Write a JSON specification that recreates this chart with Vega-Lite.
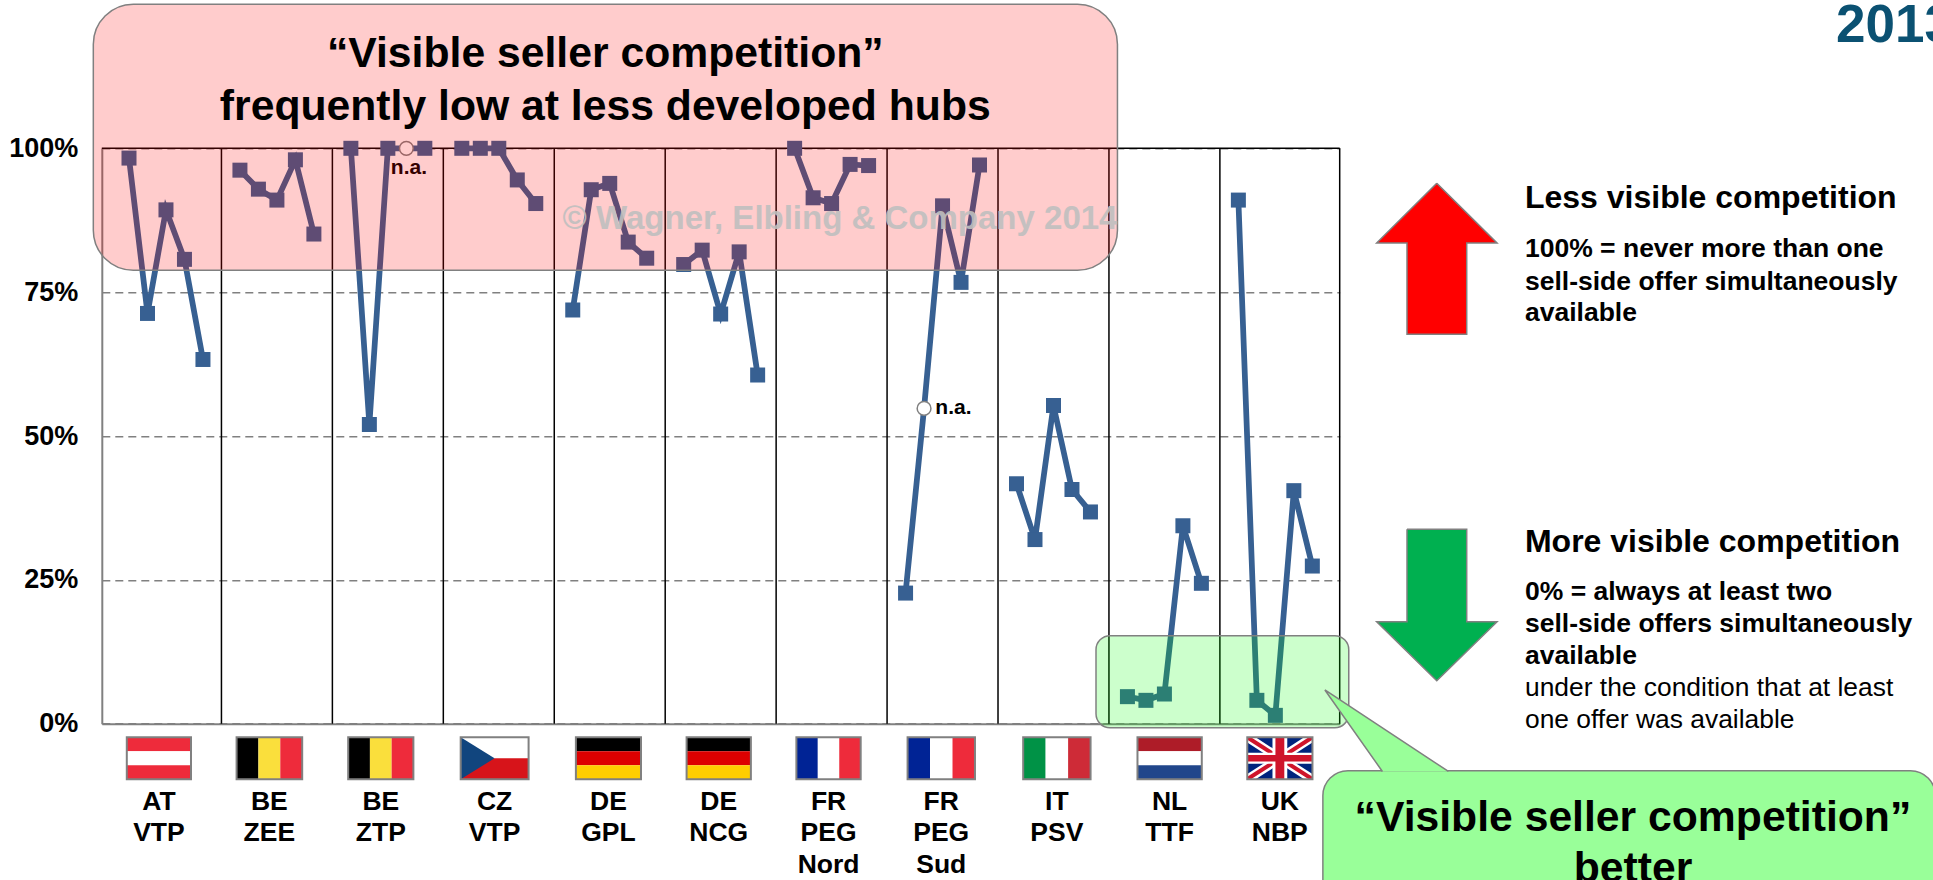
{"$schema":"https://vega.github.io/schema/vega-lite/v6.json","autosize":{"type":"none"},"width":1237.9,"height":575.4,"padding":{"left":101.8,"top":148.3,"right":593.3,"bottom":156.3},"background":"white","view":{"stroke":null},
"config":{"text":{"font":"Liberation Sans","fontWeight":"bold","baseline":"middle"}},
"datasets":{
"series":[
{"hub":"AT VTP","slot":0,"value":98.3},{"hub":"AT VTP","slot":1,"value":71.3},{"hub":"AT VTP","slot":2,"value":89.3},{"hub":"AT VTP","slot":3,"value":80.7},{"hub":"AT VTP","slot":4,"value":63.3},
{"hub":"BE ZEE","slot":6,"value":96.2},{"hub":"BE ZEE","slot":7,"value":92.9},{"hub":"BE ZEE","slot":8,"value":91.0},{"hub":"BE ZEE","slot":9,"value":98.0},{"hub":"BE ZEE","slot":10,"value":85.1},
{"hub":"BE ZTP","slot":12,"value":100},{"hub":"BE ZTP","slot":13,"value":52},{"hub":"BE ZTP","slot":14,"value":100},{"hub":"BE ZTP","slot":15,"value":100,"na":true},{"hub":"BE ZTP","slot":16,"value":100},
{"hub":"CZ VTP","slot":18,"value":100},{"hub":"CZ VTP","slot":19,"value":100},{"hub":"CZ VTP","slot":20,"value":100},{"hub":"CZ VTP","slot":21,"value":94.5},{"hub":"CZ VTP","slot":22,"value":90.4},
{"hub":"DE GPL","slot":24,"value":71.9},{"hub":"DE GPL","slot":25,"value":92.8},{"hub":"DE GPL","slot":26,"value":93.9},{"hub":"DE GPL","slot":27,"value":83.7},{"hub":"DE GPL","slot":28,"value":80.9},
{"hub":"DE NCG","slot":30,"value":79.8},{"hub":"DE NCG","slot":31,"value":82.3},{"hub":"DE NCG","slot":32,"value":71.2},{"hub":"DE NCG","slot":33,"value":82},{"hub":"DE NCG","slot":34,"value":60.6},
{"hub":"FR PEG Nord","slot":36,"value":100},{"hub":"FR PEG Nord","slot":37,"value":91.4},{"hub":"FR PEG Nord","slot":38,"value":90.4},{"hub":"FR PEG Nord","slot":39,"value":97.2},{"hub":"FR PEG Nord","slot":40,"value":97.0},
{"hub":"FR PEG Sud","slot":42,"value":22.7},{"hub":"FR PEG Sud","slot":43,"value":54.8,"na":true},{"hub":"FR PEG Sud","slot":44,"value":90.0},{"hub":"FR PEG Sud","slot":45,"value":76.7},{"hub":"FR PEG Sud","slot":46,"value":97.1},
{"hub":"IT PSV","slot":48,"value":41.7},{"hub":"IT PSV","slot":49,"value":32.0},{"hub":"IT PSV","slot":50,"value":55.3},{"hub":"IT PSV","slot":51,"value":40.7},{"hub":"IT PSV","slot":52,"value":36.8},
{"hub":"NL TTF","slot":54,"value":4.7},{"hub":"NL TTF","slot":55,"value":4.06},{"hub":"NL TTF","slot":56,"value":5.16},{"hub":"NL TTF","slot":57,"value":34.4},{"hub":"NL TTF","slot":58,"value":24.4},
{"hub":"UK NBP","slot":60,"value":91.0},{"hub":"UK NBP","slot":61,"value":4.06},{"hub":"UK NBP","slot":62,"value":1.45},{"hub":"UK NBP","slot":63,"value":40.5},{"hub":"UK NBP","slot":64,"value":27.4}
],
"dividers":[{"slot":5},{"slot":11},{"slot":17},{"slot":23},{"slot":29},{"slot":35},{"slot":41},{"slot":47},{"slot":53},{"slot":59},{"slot":65.48}],
"stripes":[
{"hub":"AT","x":-0.119,"x2":3.353,"y":-2.36,"y2":-4.79,"k":"at-red"},{"hub":"AT","x":-0.119,"x2":3.353,"y":-4.79,"y2":-7.23,"k":"white"},{"hub":"AT","x":-0.119,"x2":3.353,"y":-7.23,"y2":-9.66,"k":"at-red"},
{"hub":"BE ZEE","x":5.819,"x2":6.999,"y":-2.36,"y2":-9.66,"k":"black"},{"hub":"BE ZEE","x":6.999,"x2":8.183,"y":-2.36,"y2":-9.66,"k":"be-yellow"},{"hub":"BE ZEE","x":8.183,"x2":9.367,"y":-2.36,"y2":-9.66,"k":"at-red"},
{"hub":"BE ZTP","x":11.855,"x2":13.03,"y":-2.36,"y2":-9.66,"k":"black"},{"hub":"BE ZTP","x":13.03,"x2":14.206,"y":-2.36,"y2":-9.66,"k":"be-yellow"},{"hub":"BE ZTP","x":14.206,"x2":15.381,"y":-2.36,"y2":-9.66,"k":"at-red"},
{"hub":"CZ","x":17.939,"x2":21.612,"y":-2.36,"y2":-6.01,"k":"white"},{"hub":"CZ","x":17.939,"x2":21.612,"y":-6.01,"y2":-9.66,"k":"cz-red"},
{"hub":"DE GPL","x":24.17,"x2":27.691,"y":-2.36,"y2":-4.79,"k":"black"},{"hub":"DE GPL","x":24.17,"x2":27.691,"y":-4.79,"y2":-7.23,"k":"de-red"},{"hub":"DE GPL","x":24.17,"x2":27.691,"y":-7.23,"y2":-9.66,"k":"de-gold"},
{"hub":"DE NCG","x":30.157,"x2":33.634,"y":-2.36,"y2":-4.79,"k":"black"},{"hub":"DE NCG","x":30.157,"x2":33.634,"y":-4.79,"y2":-7.23,"k":"de-red"},{"hub":"DE NCG","x":30.157,"x2":33.634,"y":-7.23,"y2":-9.66,"k":"de-gold"},
{"hub":"FR N","x":36.095,"x2":37.254,"y":-2.36,"y2":-9.66,"k":"fr-blue"},{"hub":"FR N","x":37.254,"x2":38.414,"y":-2.36,"y2":-9.66,"k":"white"},{"hub":"FR N","x":38.414,"x2":39.573,"y":-2.36,"y2":-9.66,"k":"at-red"},
{"hub":"FR S","x":42.109,"x2":43.324,"y":-2.36,"y2":-9.66,"k":"fr-blue"},{"hub":"FR S","x":43.324,"x2":44.539,"y":-2.36,"y2":-9.66,"k":"white"},{"hub":"FR S","x":44.539,"x2":45.754,"y":-2.36,"y2":-9.66,"k":"at-red"},
{"hub":"IT","x":48.361,"x2":49.576,"y":-2.36,"y2":-9.66,"k":"it-green"},{"hub":"IT","x":49.576,"x2":50.791,"y":-2.36,"y2":-9.66,"k":"white"},{"hub":"IT","x":50.791,"x2":52.006,"y":-2.36,"y2":-9.66,"k":"it-red"},
{"hub":"NL","x":54.543,"x2":58.021,"y":-2.36,"y2":-4.79,"k":"nl-red"},{"hub":"NL","x":54.543,"x2":58.021,"y":-4.79,"y2":-7.23,"k":"white"},{"hub":"NL","x":54.543,"x2":58.021,"y":-7.23,"y2":-9.66,"k":"nl-blue"},
{"hub":"UK","x":60.481,"x2":64.007,"y":-2.36,"y2":-9.66,"k":"uk-blue"}
],
"crosses":[
{"x":61.844,"x2":62.644,"y":-2.36,"y2":-9.66,"k":"white"},{"x":60.481,"x2":64.007,"y":-5.06,"y2":-6.96,"k":"white"},
{"x":62.004,"x2":62.484,"y":-2.36,"y2":-9.66,"k":"uk-red"},{"x":60.481,"x2":64.007,"y":-5.46,"y2":-6.56,"k":"uk-red"}
],
"frames":[
{"x":-0.119,"x2":3.353,"y":-2.36,"y2":-9.66},{"x":5.819,"x2":9.367,"y":-2.36,"y2":-9.66},{"x":11.855,"x2":15.381,"y":-2.36,"y2":-9.66},{"x":17.939,"x2":21.612,"y":-2.36,"y2":-9.66},{"x":24.17,"x2":27.691,"y":-2.36,"y2":-9.66},{"x":30.157,"x2":33.634,"y":-2.36,"y2":-9.66},{"x":36.095,"x2":39.573,"y":-2.36,"y2":-9.66},{"x":42.109,"x2":45.754,"y":-2.36,"y2":-9.66},{"x":48.361,"x2":52.006,"y":-2.36,"y2":-9.66},{"x":54.543,"x2":58.021,"y":-2.36,"y2":-9.66},{"x":60.481,"x2":64.007,"y":-2.36,"y2":-9.66}
],
"flagShapes":[
{"p":"cz","i":0,"x":17.939,"y":-2.36,"k":"cz-blue"},{"p":"cz","i":1,"x":19.77,"y":-6.01,"k":"cz-blue"},{"p":"cz","i":2,"x":17.939,"y":-9.66,"k":"cz-blue"},
{"p":"w1","i":0,"x":60.481,"y":-2.36,"k":"white"},{"p":"w1","i":1,"x":60.931,"y":-2.36,"k":"white"},{"p":"w1","i":2,"x":64.007,"y":-8.76,"k":"white"},{"p":"w1","i":3,"x":64.007,"y":-9.66,"k":"white"},{"p":"w1","i":4,"x":63.557,"y":-9.66,"k":"white"},{"p":"w1","i":5,"x":60.481,"y":-3.26,"k":"white"},
{"p":"w2","i":0,"x":64.007,"y":-2.36,"k":"white"},{"p":"w2","i":1,"x":64.007,"y":-3.26,"k":"white"},{"p":"w2","i":2,"x":60.931,"y":-9.66,"k":"white"},{"p":"w2","i":3,"x":60.481,"y":-9.66,"k":"white"},{"p":"w2","i":4,"x":60.481,"y":-8.76,"k":"white"},{"p":"w2","i":5,"x":63.557,"y":-2.36,"k":"white"},
{"p":"r1","i":0,"x":60.481,"y":-2.36,"k":"uk-red"},{"p":"r1","i":1,"x":60.681,"y":-2.36,"k":"uk-red"},{"p":"r1","i":2,"x":64.007,"y":-9.24,"k":"uk-red"},{"p":"r1","i":3,"x":64.007,"y":-9.66,"k":"uk-red"},{"p":"r1","i":4,"x":63.807,"y":-9.66,"k":"uk-red"},{"p":"r1","i":5,"x":60.481,"y":-2.78,"k":"uk-red"},
{"p":"r2","i":0,"x":64.007,"y":-2.36,"k":"uk-red"},{"p":"r2","i":1,"x":64.007,"y":-2.78,"k":"uk-red"},{"p":"r2","i":2,"x":60.681,"y":-9.66,"k":"uk-red"},{"p":"r2","i":3,"x":60.481,"y":-9.66,"k":"uk-red"},{"p":"r2","i":4,"x":60.481,"y":-9.24,"k":"uk-red"},{"p":"r2","i":5,"x":63.807,"y":-2.36,"k":"uk-red"}
],
"arrows":[
{"p":"up","i":0,"x":70.73,"y":93.92,"k":"less"},{"p":"up","i":1,"x":73.99,"y":83.54,"k":"less"},{"p":"up","i":2,"x":72.35,"y":83.54,"k":"less"},{"p":"up","i":3,"x":72.35,"y":67.68,"k":"less"},{"p":"up","i":4,"x":69.12,"y":67.68,"k":"less"},{"p":"up","i":5,"x":69.12,"y":83.54,"k":"less"},{"p":"up","i":6,"x":67.48,"y":83.54,"k":"less"},{"p":"up","i":7,"x":70.73,"y":93.92,"k":"less"},
{"p":"down","i":0,"x":69.12,"y":33.79,"k":"more"},{"p":"down","i":1,"x":72.35,"y":33.79,"k":"more"},{"p":"down","i":2,"x":72.35,"y":17.73,"k":"more"},{"p":"down","i":3,"x":73.99,"y":17.73,"k":"more"},{"p":"down","i":4,"x":70.73,"y":7.47,"k":"more"},{"p":"down","i":5,"x":67.48,"y":17.73,"k":"more"},{"p":"down","i":6,"x":69.12,"y":17.73,"k":"more"},{"p":"down","i":7,"x":69.12,"y":33.79,"k":"more"}
],
"wedge":[{"i":0,"x":67.79,"y":-8.3},{"i":1,"x":64.68,"y":5.86},{"i":2,"x":71.36,"y":-8.3}],
"hubLabels":[
{"x":1.617,"y":-13.56,"t":"AT"},{"x":1.617,"y":-19.05,"t":"VTP"},
{"x":7.593,"y":-13.56,"t":"BE"},{"x":7.593,"y":-19.05,"t":"ZEE"},
{"x":13.618,"y":-13.56,"t":"BE"},{"x":13.618,"y":-19.05,"t":"ZTP"},
{"x":19.775,"y":-13.56,"t":"CZ"},{"x":19.775,"y":-19.05,"t":"VTP"},
{"x":25.93,"y":-13.56,"t":"DE"},{"x":25.93,"y":-19.05,"t":"GPL"},
{"x":31.895,"y":-13.56,"t":"DE"},{"x":31.895,"y":-19.05,"t":"NCG"},
{"x":37.834,"y":-13.56,"t":"FR"},{"x":37.834,"y":-19.05,"t":"PEG"},{"x":37.834,"y":-24.56,"t":"Nord"},
{"x":43.93,"y":-13.56,"t":"FR"},{"x":43.93,"y":-19.05,"t":"PEG"},{"x":43.93,"y":-24.56,"t":"Sud"},
{"x":50.18,"y":-13.56,"t":"IT"},{"x":50.18,"y":-19.05,"t":"PSV"},
{"x":56.28,"y":-13.56,"t":"NL"},{"x":56.28,"y":-19.05,"t":"TTF"},
{"x":62.24,"y":-13.56,"t":"UK"},{"x":62.24,"y":-19.05,"t":"NBP"}
]
},
"encoding":{
"x":{"field":"slot","type":"quantitative","scale":{"domain":[-1.471,65.48],"nice":false,"zero":false},"axis":{"title":null,"labels":false,"ticks":false,"grid":false,"domainColor":"#808080","domainWidth":2}},
"y":{"field":"value","type":"quantitative","scale":{"domain":[0,100],"nice":false},"axis":{"title":null,"values":[0,25,50,75,100],"labelExpr":"datum.value+'%'","ticks":false,"labelFont":"Liberation Sans","labelFontWeight":"bold","labelFontSize":27,"labelColor":"#000000","labelPadding":24,"domainColor":"#808080","domainWidth":2,"grid":true,"gridColor":"#808080","gridWidth":1.5,"gridDash":[8,5],"gridOpacity":1}}
},
"layer":[
{"data":{"name":"dividers"},"mark":{"type":"rule","color":"#000000","strokeWidth":1.5},"encoding":{"y":null}},
{"data":{"values":[{"value":100}]},"mark":{"type":"rule","color":"#000000","strokeWidth":1.5},"encoding":{"x":null}},
{"data":{"name":"series"},"mark":{"type":"line","color":"#376092","strokeWidth":5.75},"encoding":{"detail":{"field":"hub"}}},
{"data":{"name":"series"},"transform":[{"filter":"!datum.na"}],"mark":{"type":"square","color":"#376092","opacity":1,"size":225}},
{"data":{"name":"series"},"transform":[{"filter":"datum.na"}],"mark":{"type":"circle","fill":"#FFFFFF","stroke":"#808080","strokeWidth":1.5,"opacity":1,"size":190}},
{"data":{"values":[{"t":"n.a.","x":15.14,"y":96.58}]},"mark":{"type":"text","fontSize":21,"color":"#000000","align":"center"},"encoding":{"x":{"field":"x","type":"quantitative"},"y":{"field":"y","type":"quantitative"},"text":{"field":"t"}}},
{"data":{"values":[{"x":-1.93,"x2":53.46,"y":125.03,"y2":78.8}]},"mark":{"type":"rect","fill":"#FF0000","fillOpacity":0.2,"stroke":"#808080","strokeWidth":1.5,"cornerRadius":40},"encoding":{"x":{"field":"x","type":"quantitative"},"x2":{"field":"x2"},"y":{"field":"y","type":"quantitative"},"y2":{"field":"y2"}}},
{"data":{"values":[{"x":52.3,"x2":65.97,"y":15.29,"y2":-0.7}]},"mark":{"type":"rect","fill":"#00FF00","fillOpacity":0.2,"stroke":"#808080","strokeWidth":1.5,"cornerRadius":14},"encoding":{"x":{"field":"x","type":"quantitative"},"x2":{"field":"x2"},"y":{"field":"y","type":"quantitative"},"y2":{"field":"y2"}}},
{"data":{"values":[{"t":"n.a.","x":43.61,"y":54.87}]},"mark":{"type":"text","fontSize":21,"color":"#000000","align":"left"},"encoding":{"x":{"field":"x","type":"quantitative"},"y":{"field":"y","type":"quantitative"},"text":{"field":"t"}}},
{"data":{"values":[{"t":"© Wagner, Elbling & Company 2014","x":23.45,"y":87.7}]},"mark":{"type":"text","fontSize":33,"color":"#BFBFBF","opacity":0.9,"align":"left"},"encoding":{"x":{"field":"x","type":"quantitative"},"y":{"field":"y","type":"quantitative"},"text":{"field":"t"}}},
{"data":{"values":[{"t":"“Visible seller competition”","x":25.76,"y":116.4},{"t":"frequently low at less developed hubs","x":25.76,"y":107.23}]},"mark":{"type":"text","fontSize":42.7,"color":"#000000","align":"center"},"encoding":{"x":{"field":"x","type":"quantitative"},"y":{"field":"y","type":"quantitative"},"text":{"field":"t"}}},
{"data":{"name":"stripes"},"mark":{"type":"rect"},"encoding":{"x":{"field":"x","type":"quantitative"},"x2":{"field":"x2"},"y":{"field":"y","type":"quantitative"},"y2":{"field":"y2"},"fill":{"field":"k","type":"nominal","legend":null,"scale":{"domain":["white","black","at-red","be-yellow","cz-red","cz-blue","de-red","de-gold","fr-blue","it-green","it-red","nl-red","nl-blue","uk-blue","uk-red","less","more"],"range":["#FFFFFF","#000000","#EE2B3B","#FADF3C","#D7141A","#11457E","#DD0000","#FFCE00","#002395","#009246","#CE2B37","#AE1C28","#21468B","#00247D","#CF142B","#FF0000","#00B050"]}}}},
{"data":{"name":"flagShapes"},"mark":{"type":"line","strokeWidth":0},"encoding":{"x":{"field":"x","type":"quantitative"},"y":{"field":"y","type":"quantitative"},"order":{"field":"i","type":"quantitative"},"detail":{"field":"p"},"fill":{"field":"k","type":"nominal","legend":null}}},
{"data":{"name":"crosses"},"mark":{"type":"rect"},"encoding":{"x":{"field":"x","type":"quantitative"},"x2":{"field":"x2"},"y":{"field":"y","type":"quantitative"},"y2":{"field":"y2"},"fill":{"field":"k","type":"nominal","legend":null}}},
{"data":{"name":"frames"},"mark":{"type":"rect","fill":"transparent","stroke":"#808080","strokeWidth":2},"encoding":{"x":{"field":"x","type":"quantitative"},"x2":{"field":"x2"},"y":{"field":"y","type":"quantitative"},"y2":{"field":"y2"}}},
{"data":{"name":"hubLabels"},"mark":{"type":"text","fontSize":26.5,"color":"#000000","align":"center"},"encoding":{"x":{"field":"x","type":"quantitative"},"y":{"field":"y","type":"quantitative"},"text":{"field":"t"}}},
{"data":{"name":"arrows"},"mark":{"type":"line","stroke":"#808080","strokeWidth":1.5},"encoding":{"x":{"field":"x","type":"quantitative"},"y":{"field":"y","type":"quantitative"},"order":{"field":"i","type":"quantitative"},"detail":{"field":"p"},"fill":{"field":"k","type":"nominal","legend":null}}},
{"data":{"values":[{"t":"Less visible competition","x":75.5,"y":91.36},{"t":"More visible competition","x":75.5,"y":31.63}]},"mark":{"type":"text","fontSize":32,"color":"#000000","align":"left"},"encoding":{"x":{"field":"x","type":"quantitative"},"y":{"field":"y","type":"quantitative"},"text":{"field":"t"}}},
{"data":{"values":[{"t":"100% = never more than one","x":75.5,"y":82.5},{"t":"sell-side offer simultaneously","x":75.5,"y":76.82},{"t":"available","x":75.5,"y":71.38},{"t":"0% = always at least two","x":75.5,"y":22.89},{"t":"sell-side offers simultaneously","x":75.5,"y":17.27},{"t":"available","x":75.5,"y":11.77}]},"mark":{"type":"text","fontSize":26.5,"color":"#000000","align":"left"},"encoding":{"x":{"field":"x","type":"quantitative"},"y":{"field":"y","type":"quantitative"},"text":{"field":"t"}}},
{"data":{"values":[{"t":"under the condition that at least","x":75.5,"y":6.15},{"t":"one offer was available","x":75.5,"y":0.64}]},"mark":{"type":"text","fontSize":26.4,"fontWeight":"normal","color":"#000000","align":"left"},"encoding":{"x":{"field":"x","type":"quantitative"},"y":{"field":"y","type":"quantitative"},"text":{"field":"t"}}},
{"data":{"values":[{"t":"2013","x":92.32,"y":121.2}]},"mark":{"type":"text","fontSize":53,"color":"#0B5172","align":"left"},"encoding":{"x":{"field":"x","type":"quantitative"},"y":{"field":"y","type":"quantitative"},"text":{"field":"t"}}},
{"data":{"values":[{"x":64.57,"x2":97.7,"y":-8.17,"y2":-35}]},"mark":{"type":"rect","fill":"#99FF99","stroke":"#808080","strokeWidth":1.5,"cornerRadius":25},"encoding":{"x":{"field":"x","type":"quantitative"},"x2":{"field":"x2"},"y":{"field":"y","type":"quantitative"},"y2":{"field":"y2"}}},
{"data":{"name":"wedge"},"mark":{"type":"line","fill":"#99FF99","stroke":"#808080","strokeWidth":1.5},"encoding":{"x":{"field":"x","type":"quantitative"},"y":{"field":"y","type":"quantitative"},"order":{"field":"i","type":"quantitative"}}},
{"data":{"values":[{"t":"“Visible seller competition”","x":81.34,"y":-16.44},{"t":"better","x":81.34,"y":-25.2}]},"mark":{"type":"text","fontSize":42.7,"color":"#000000","align":"center"},"encoding":{"x":{"field":"x","type":"quantitative"},"y":{"field":"y","type":"quantitative"},"text":{"field":"t"}}}
]}
